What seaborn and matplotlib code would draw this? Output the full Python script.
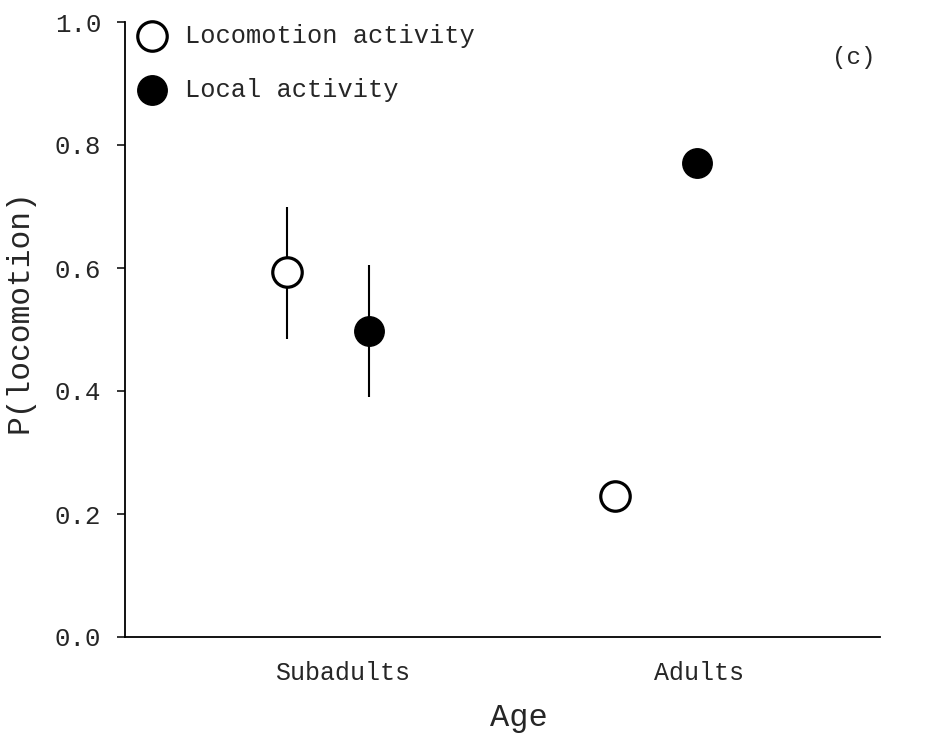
import numpy as np
import pandas as pd
import matplotlib
matplotlib.use("Agg")
import matplotlib.pyplot as plt
import seaborn as sns

# ---- data ----
ages = ["Subadults", "Adults"]
activities = ["Locomotion activity", "Local activity"]
p_locomotion_activity = [0.593, 0.229]
p_local_activity = [0.498, 0.771]
lo_locomotion_activity = [0.485, np.nan]
hi_locomotion_activity = [0.700, np.nan]
lo_local_activity = [0.390, np.nan]
hi_local_activity = [0.605, np.nan]
y_ticks = [0.0, 0.2, 0.4, 0.6, 0.8, 1.0]
panel_label = "(c)"

rows = []
for i, a in enumerate(ages):
    rows.append(dict(age=a, activity=activities[0], p=p_locomotion_activity[i],
                     lo=lo_locomotion_activity[i], hi=hi_locomotion_activity[i]))
    rows.append(dict(age=a, activity=activities[1], p=p_local_activity[i],
                     lo=lo_local_activity[i], hi=hi_local_activity[i]))
df = pd.DataFrame(rows)
group_pos = {a: i for i, a in enumerate(ages)}
dodge = {activities[0]: -0.125, activities[1]: 0.125}
df["x"] = df["age"].map(group_pos) + df["activity"].map(dodge)

sns.set_theme(style="white")
plt.rcParams["font.family"] = ["Liberation Mono", "DejaVu Sans Mono"]

fig = plt.figure(figsize=(9.35, 7.33), dpi=100)
ax = fig.add_axes([125 / 935, 96 / 733, 755 / 935, 615 / 733])

# error bars
ax.vlines(df["x"], df["lo"], df["hi"], color="black", lw=1.5, zorder=1)

styles = {
    activities[0]: dict(facecolor="white", edgecolor="black", linewidth=2.3),
    activities[1]: dict(facecolor="black", edgecolor="black", linewidth=1.0),
}
for act in activities:
    sub = df[df["activity"] == act]
    sns.scatterplot(data=sub, x="x", y="p", ax=ax, marker="o", s=450,
                    label=act, zorder=3, **styles[act])

ax.set_xlim(-0.619, 1.683)
ax.set_ylim(0, 1.0)
ax.set_yticks(y_ticks)
ax.set_yticklabels([f"{v:.1f}" for v in y_ticks], fontsize=18.5)
ax.set_xticks([0.043, 1.131])
ax.set_xticklabels(ages, fontsize=18)
ax.tick_params(axis="x", length=0, pad=17.5)
ax.tick_params(axis="y", direction="out", length=6, width=1.3, left=True, pad=11)
ax.set_xlabel("Age", fontsize=23)
ax.xaxis.set_label_coords(0.522, -0.107)
ax.set_ylabel("P(locomotion)", fontsize=22.5)
ax.yaxis.set_label_coords(-0.12, 0.53)

for side in ["top", "right"]:
    ax.spines[side].set_visible(False)
for side in ["left", "bottom"]:
    ax.spines[side].set_color("black")
    ax.spines[side].set_linewidth(1.3)

ax.text(0.9656, 0.943, panel_label, transform=ax.transAxes, ha="center",
        va="center", fontsize=17.5)

leg = ax.legend(loc="upper left", bbox_to_anchor=(0.0026, 1.013), frameon=False,
                fontsize=18.3, handletextpad=0.7, labelspacing=1.18,
                borderaxespad=0.0, handlelength=1.2)

fig.savefig("out.png", dpi=100)
